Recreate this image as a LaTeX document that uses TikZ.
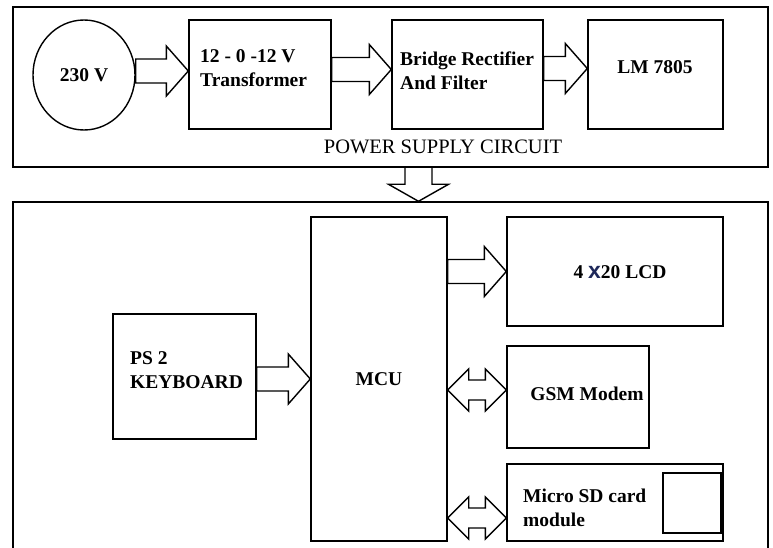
\documentclass[tikz,border=0pt]{standalone}
\usepackage{fontspec}
\setmainfont{Liberation Serif}
\setsansfont{Liberation Sans}
\usepackage{tikz}
\usetikzlibrary{calc, shapes.geometric}

\definecolor{inknavy}{RGB}{30,40,90}

\tikzset{
  frame/.style={draw, line width=1.4pt, inner sep=0pt},
  block/.style={draw, line width=1.4pt, fill=white, inner sep=0pt,
    font=\bfseries\fontsize{19.5}{24}\selectfont},
  blocktext/.style={font=\bfseries\fontsize{19.5}{24}\selectfont, align=left, inner sep=0pt},
  fatbody/.style={draw, line width=1.4pt, line join=miter}
}

% hollow block arrow, from the first point straight across to the second
\newcommand{\fatarrow}[2]{%
  \draw[fatbody] let \p1=(#1), \p2=(#2) in
    (\x1,\y1+12pt) -- (\x2-22pt,\y1+12pt) -- (\x2-22pt,\y1+25pt) -- (\x2,\y1)
    -- (\x2-22pt,\y1-25pt) -- (\x2-22pt,\y1-12pt) -- (\x1,\y1-12pt) -- cycle;}

% hollow arrow with a head at both ends
\newcommand{\twinarrow}[2]{%
  \draw[fatbody] let \p1=(#1), \p2=(#2) in
    (\x1,\y1) -- (\x1+21pt,\y1+21pt) -- (\x1+21pt,\y1+10pt) -- (\x2-21pt,\y1+10pt)
    -- (\x2-21pt,\y1+21pt) -- (\x2,\y1) -- (\x2-21pt,\y1-21pt) -- (\x2-21pt,\y1-10pt)
    -- (\x1+21pt,\y1-10pt) -- (\x1+21pt,\y1-21pt) -- cycle;}

\begin{document}
\begin{tikzpicture}[x=1pt, y=-1pt]
  \useasboundingbox (0,0) rectangle (773,548);

  % Power supply section
  \node[frame, minimum width=755pt, minimum height=160pt] (psu) at (390.5,87) {};
  \node[block, ellipse, minimum width=102pt, minimum height=110pt] (src) at (84,75) {230 V};
  \node[block, minimum width=142pt, minimum height=109pt] (trans) at (260,74.5) {};
  \node[blocktext, anchor=west] (translabel) at (200,68.5) {12 - 0 -12 V\\Transformer};
  \node[block, minimum width=151pt, minimum height=109pt] (bridge) at (467.5,74.5) {};
  \node[blocktext, anchor=west] (bridgelabel) at (400,70.5) {Bridge Rectifier\\And Filter};
  \node[block, minimum width=135pt, minimum height=109pt] (reg) at (655.5,74.5) {};
  \node[blocktext] (reglabel) at (655,67) {LM 7805};
  \node[inner sep=0pt, font=\fontsize{20.5}{24}\selectfont] (psulabel) at (443,147) {POWER SUPPLY CIRCUIT};

  % Controller section
  \node[frame, minimum width=755pt, minimum height=358pt] (main) at (390.5,381) {};
  \node[block, minimum width=136pt, minimum height=324pt] (mcu) at (379,379) {MCU};
  \node[block, minimum width=143pt, minimum height=125pt] (kbd) at (184.5,376.5) {};
  \node[blocktext, anchor=west] (kbdlabel) at (130,370) {PS 2\\KEYBOARD};
  \node[block, minimum width=216pt, minimum height=109pt] (lcd) at (615,271.5) {};
  \node[blocktext] (lcdlabel) at (620,272) {4 {\sffamily\fontsize{23}{24}\selectfont\color{inknavy}x}20 LCD};
  \node[block, minimum width=142pt, minimum height=102pt] (gsm) at (578,397) {};
  \node[blocktext] (gsmlabel) at (587,394) {GSM Modem};
  \node[block, minimum width=216pt, minimum height=77pt] (sd) at (615,502.5) {};
  \node[block, minimum width=58pt, minimum height=60pt] (slot) at (692,503) {};
  \node[blocktext, anchor=west] (sdlabel) at (523,507.5) {Micro SD card\\module};

  % Block arrows
  \fatarrow{[yshift=4pt]src.east}{trans.west}
  \fatarrow{[yshift=5pt]trans.east}{bridge.west}
  \fatarrow{[yshift=6pt]bridge.east}{reg.west}
  \fatarrow{[yshift=-2.5pt]kbd.east}{mcu.west}
  \fatarrow{lcd.west -| mcu.east}{lcd.west}
  \twinarrow{[yshift=7pt]gsm.west -| mcu.east}{[yshift=7pt]gsm.west}
  \twinarrow{[yshift=-15.5pt]sd.west -| mcu.east}{[yshift=-15.5pt]sd.west}

  % Supply feed into the controller board
  \coordinate (feed) at (418.5,167);
  \draw[fatbody] let \p1=(feed), \p2=(feed |- main.north) in
    (\x1-13.5pt,\y1) -- (\x1-13.5pt,\y2+17pt) -- (\x1-30pt,\y2+17pt) -- (\x1,\y2)
    -- (\x1+30pt,\y2+17pt) -- (\x1+13.5pt,\y2+17pt) -- (\x1+13.5pt,\y1);
\end{tikzpicture}
\end{document}
